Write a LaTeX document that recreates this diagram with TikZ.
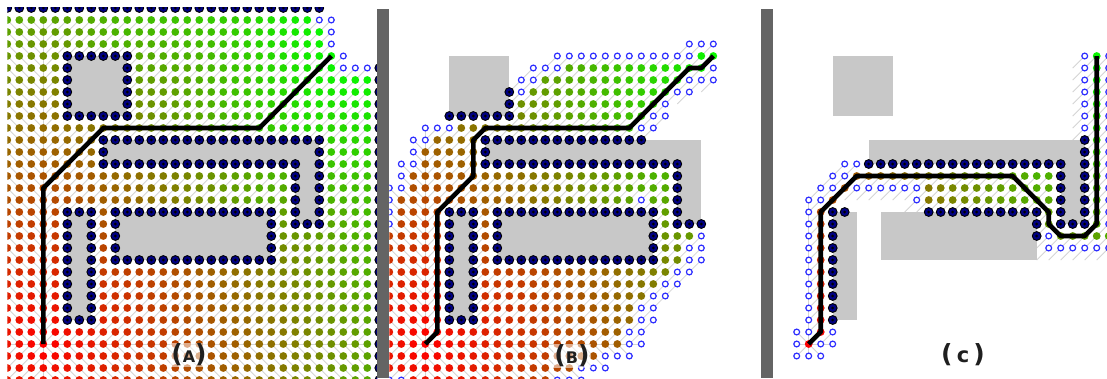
\documentclass[tikz,border=0pt]{standalone}
\usepackage{fontspec}
\newfontfamily\lblfont{DejaVu Sans}
\definecolor{navyc}{RGB}{0,0,130}
\definecolor{hollowc}{RGB}{45,45,255}
\definecolor{obgray}{RGB}{200,200,200}
\definecolor{sepgray}{RGB}{100,100,100}
\definecolor{plinec}{RGB}{212,212,212}
\tikzset{
  pline/.style={draw=plinec, line width=0.8pt},
  route/.style={draw=black, line width=4.6pt, line join=round},
  lbl/.style={font=\lblfont\bfseries\fontsize{16}{16}\selectfont, text=black!88, inner sep=1pt},
  obst/.style={fill=obgray},
}
\newcount\cur \newcount\tmpc \newcount\ci
\def\rep#1#2{\ifnum#1>0 #2\expandafter\rep\expandafter{\the\numexpr#1-1\relax}{#2}\fi}
\def\defrow#1#2#3{\expandafter\xdef\csname map@#1@#2\endcsname{#3}}
\def\gval#1#2{\csname g@\number\numexpr#1\relax @\number\numexpr#2\relax\endcsname}
\def\tryn#1#2#3{\tmpc=\gval{#1}{#2}\relax \advance\tmpc by #3\relax \ifnum\tmpc<\cur \cur=\tmpc \fi}
\def\relaxcell#1#2#3{%
  \ifnum\csname ob@#1@#2\endcsname=0
    \cur=\gval{#1}{#2}\relax
    \tryn{#1+#3}{#2}{10}%
    \tryn{#1+#3}{#2+#3}{14}%
    \tryn{#1}{#2+#3}{10}%
    \tryn{#1-(#3)}{#2+#3}{14}%
    \expandafter\xdef\csname g@#1@#2\endcsname{\the\cur}%
  \fi}
\def\markrect#1#2#3#4{\foreach \i in {#1,...,#2}{\foreach \j in {#3,...,#4}{\expandafter\xdef\csname ob@\i @\j\endcsname{1}}}}
\long\def\gobbleone#1{}
\long\def\firstone#1{#1}
\def\scanrow#1{\ifx#1\relax\expandafter\gobbleone\else\expandafter\firstone\fi
  {\docell{#1}\global\advance\ci by 1 \scanrow}}
\def\docell#1{\csname cell@\mode @#1\endcsname}
\def\panel#1#2{\def\mode{#2}%
  \foreach \j in {0,...,31}{\global\ci=0 \edef\cj{\j}%
    \expandafter\expandafter\expandafter\scanrow\csname map@#1@\j\endcsname\relax}}
\expandafter\def\csname cell@dots@c\endcsname{%
  \edef\pp{\number\numexpr100-\gval{\ci}{\cj}*100/430\relax}%
  \ifnum\pp<0 \def\pp{0}\fi
  \fill[red!\pp!green] (\the\ci,\cj) circle (3.9pt);}
\expandafter\def\csname cell@dots@o\endcsname{%
  \draw[draw=hollowc, fill=white, line width=1.2pt] (\the\ci,\cj) circle (2.9pt);}
\expandafter\def\csname cell@dots@x\endcsname{%
  \filldraw[fill=navyc, draw=black, line width=0.9pt] (\the\ci,\cj) circle (4.4pt);
  \fill[black] (\the\ci,\cj) circle (1.5pt);}
\def\parentline{%
  \edef\di{\ifnum\ci<3 1\else\ifnum\ci>3 -1\else 0\fi\fi}%
  \edef\dj{\ifnum\cj<28 1\else\ifnum\cj>28 -1\else 0\fi\fi}%
  \draw[pline] (\the\ci,\cj) -- ++(\di,\dj);}
\expandafter\let\csname cell@lines@c\endcsname\parentline
\expandafter\let\csname cell@lines@o\endcsname\parentline
\def\obstacles{%
  \fill[obst] (5,4) rectangle (10,9);
  \fill[obst] (8,11) rectangle (26,13);
  \fill[obst] (24,11) rectangle (26,18);
  \fill[obst] (5,17) rectangle (7,26);
  \fill[obst] (9,17) rectangle (22,21);}
\begin{document}
\begin{tikzpicture}[x=1pt,y=-1pt]
\useasboundingbox (0,0) rectangle (1107,378);
% ---------- distance map ----------
\foreach \i in {-1,...,32}{\foreach \j in {-1,...,32}{\expandafter\xdef\csname g@\i @\j\endcsname{99999}\expandafter\xdef\csname ob@\i @\j\endcsname{0}}}
\markrect{5}{10}{4}{9}
\markrect{8}{26}{11}{13}
\markrect{24}{26}{11}{18}
\markrect{5}{7}{17}{26}
\markrect{9}{22}{17}{21}
\markrect{0}{31}{0}{0}
\markrect{31}{31}{0}{31}
\expandafter\xdef\csname g@3@28\endcsname{0}
\foreach \k in {1,...,4}{%
  \foreach \j in {0,...,31}{\foreach \i in {0,...,31}{\relaxcell{\i}{\j}{-1}}}%
  \foreach \j in {31,30,...,0}{\foreach \i in {31,30,...,0}{\relaxcell{\i}{\j}{1}}}}
% ---------- maps ----------
\defrow{A}{0}{\rep{27}{x}\rep{5}{.}}
\defrow{A}{1}{\rep{26}{c}oo\rep{4}{.}}
\defrow{A}{2}{\rep{27}{c}o\rep{4}{.}}
\defrow{A}{3}{\rep{27}{c}o\rep{4}{.}}
\defrow{A}{4}{ccccc\rep{6}{x}\rep{17}{c}o...}
\defrow{A}{5}{cccccx....x\rep{17}{c}ooox}
\foreach \r in {6,7,8}{\defrow{A}{\r}{cccccx....x\rep{20}{c}x}}
\defrow{A}{9}{ccccc\rep{6}{x}\rep{20}{c}x}
\defrow{A}{10}{\rep{31}{c}x}
\defrow{A}{11}{\rep{8}{c}\rep{19}{x}ccccx}
\defrow{A}{12}{\rep{8}{c}x\rep{17}{.}xccccx}
\defrow{A}{13}{\rep{8}{c}\rep{17}{x}.xccccx}
\foreach \r in {14,15,16}{\defrow{A}{\r}{\rep{24}{c}x.xccccx}}
\defrow{A}{17}{cccccxxxc\rep{14}{x}cx.xccccx}
\defrow{A}{18}{cccccx.xcx\rep{12}{.}xcxxxccccx}
\foreach \r in {19,20}{\defrow{A}{\r}{cccccx.xcx\rep{12}{.}x\rep{8}{c}x}}
\defrow{A}{21}{cccccx.xc\rep{14}{x}\rep{8}{c}x}
\foreach \r in {22,23,24,25}{\defrow{A}{\r}{cccccx.x\rep{23}{c}x}}
\defrow{A}{26}{cccccxxx\rep{23}{c}x}
\foreach \r in {27,...,31}{\defrow{A}{\r}{\rep{31}{c}x}}
%
\foreach \r in {0,1,2}{\defrow{B}{\r}{\rep{32}{.}}}
\defrow{B}{3}{\rep{25}{.}ooo....}
\defrow{B}{4}{\rep{14}{.}\rep{12}{o}cc....}
\defrow{B}{5}{\rep{12}{.}ooo\rep{12}{c}o....}
\defrow{B}{6}{\rep{11}{.}oo\rep{12}{c}ooo....}
\defrow{B}{7}{\rep{10}{.}xo\rep{12}{c}oo\rep{6}{.}}
\defrow{B}{8}{\rep{10}{.}x\rep{12}{c}o\rep{8}{.}}
\defrow{B}{9}{.....xxxxxx\rep{11}{c}oo\rep{8}{.}}
\defrow{B}{10}{...ooo\rep{15}{c}oo\rep{9}{.}}
\defrow{B}{11}{..oocccc\rep{14}{x}\rep{10}{.}}
\defrow{B}{12}{..occcccx\rep{23}{.}}
\defrow{B}{13}{.ooccccc\rep{17}{x}\rep{7}{.}}
\defrow{B}{14}{.o\rep{22}{c}x\rep{7}{.}}
\defrow{B}{15}{oo\rep{22}{c}x\rep{7}{.}}
\defrow{B}{16}{o\rep{20}{c}occx\rep{7}{.}}
\defrow{B}{17}{occccxxxc\rep{14}{x}cx\rep{7}{.}}
\defrow{B}{18}{occccx.xcx\rep{12}{.}xcxxx\rep{5}{.}}
\defrow{B}{19}{cccccx.xcx\rep{12}{.}xccco\rep{5}{.}}
\defrow{B}{20}{cccccx.xcx\rep{12}{.}xccoo\rep{5}{.}}
\defrow{B}{21}{cccccx.xc\rep{14}{x}ccoo\rep{5}{.}}
\defrow{B}{22}{cccccx.x\rep{16}{c}oo\rep{6}{.}}
\defrow{B}{23}{cccccx.x\rep{15}{c}oo\rep{7}{.}}
\defrow{B}{24}{cccccx.x\rep{14}{c}oo\rep{8}{.}}
\defrow{B}{25}{cccccx.x\rep{13}{c}oo\rep{9}{.}}
\defrow{B}{26}{cccccxxx\rep{13}{c}oo\rep{9}{.}}
\defrow{B}{27}{\rep{20}{c}oo\rep{10}{.}}
\defrow{B}{28}{\rep{20}{c}oo\rep{10}{.}}
\defrow{B}{29}{\rep{18}{c}ooo\rep{11}{.}}
\defrow{B}{30}{\rep{16}{c}ooo\rep{13}{.}}
\defrow{B}{31}{oo\rep{12}{c}ooo\rep{15}{.}}
%
\foreach \r in {0,1,2,3}{\defrow{C}{\r}{\rep{32}{.}}}
\foreach \r in {4,...,10}{\defrow{C}{\r}{\rep{26}{.}oco...}}
\foreach \r in {11,12}{\defrow{C}{\r}{\rep{26}{.}xco...}}
\defrow{C}{13}{......oo\rep{17}{x}.xco...}
\defrow{C}{14}{.....oo\rep{17}{c}x.xco...}
\defrow{C}{15}{....ooc\rep{6}{o}\rep{11}{c}x.xco...}
\defrow{C}{16}{...ooc\rep{6}{.}o\rep{11}{c}x.xco...}
\defrow{C}{17}{...ocxx\rep{6}{.}\rep{10}{x}cx.xco...}
\defrow{C}{18}{...ocx\rep{16}{.}xcxxxco...}
\defrow{C}{19}{...ocx\rep{16}{.}xoccccco...}
\defrow{C}{20}{...ocx\rep{17}{.}\rep{6}{o}...}
\foreach \r in {21,...,26}{\defrow{C}{\r}{...ocx\rep{26}{.}}}
\defrow{C}{27}{..ooco\rep{26}{.}}
\defrow{C}{28}{..ocoo\rep{26}{.}}
\defrow{C}{29}{..ooo\rep{27}{.}}
\foreach \r in {30,31}{\defrow{C}{\r}{\rep{32}{.}}}
% ---------- panel A ----------
\begin{scope}[shift={(7.3,8)}, x=12pt, y=-12pt]
  \clip (0,-0.06) rectangle (30.83,30.84);
  \panel{A}{lines}
  \obstacles
  \panel{A}{dots}
  \draw[route] (3,28) coordinate (a0) -- (3,15) -- (8,10) -- (21,10) -- (27,4) coordinate (a1);
\end{scope}
% ---------- panel B ----------
\begin{scope}[shift={(389.3,8)}, x=12pt, y=-12pt]
  \clip (0,-0.06) rectangle (30.95,30.84);
  \panel{B}{lines}
  \obstacles
  \panel{B}{dots}
  \draw[route] (3,28) coordinate (b0) -- (4,27) -- (4,17) -- (7,14) -- (7,11) -- (8,10) -- (20,10) -- (25,5) -- (26,5) -- (27,4) coordinate (b1);
\end{scope}
% ---------- panel C ----------
\begin{scope}[shift={(772.7,8)}, x=12pt, y=-12pt]
  \clip (0,-0.06) rectangle (27.86,30.84);
  \panel{C}{lines}
  \obstacles
  \panel{C}{dots}
  \draw[route] (3,28) coordinate (c0) -- (4,27) -- (4,17) -- (7,14) -- (20,14) -- (23,17) -- (23,18) -- (24,19) -- (26,19) -- (27,18) -- (27,4) coordinate (c1);
\end{scope}
% ---------- separators ----------
\fill[sepgray] (377.3,9.3) rectangle (389.3,378);
\fill[sepgray] (760.7,9.3) rectangle (772.7,378);
% ---------- labels ----------
\node[lbl, fill=white, fill opacity=0.55, text opacity=1] (labA) at (189,355) {{\fontsize{25}{25}\selectfont(}A{\fontsize{25}{25}\selectfont)}};
\node[lbl, fill=white, fill opacity=0.55, text opacity=1] (labB) at (572,356) {{\fontsize{25}{25}\selectfont(}B{\fontsize{25}{25}\selectfont)}};
\node[lbl] (labC) at (963,355) {{\fontsize{25}{25}\selectfont(\,}{\fontsize{21}{21}\selectfont c}{\fontsize{25}{25}\selectfont\,)}};
\end{tikzpicture}
\end{document}
